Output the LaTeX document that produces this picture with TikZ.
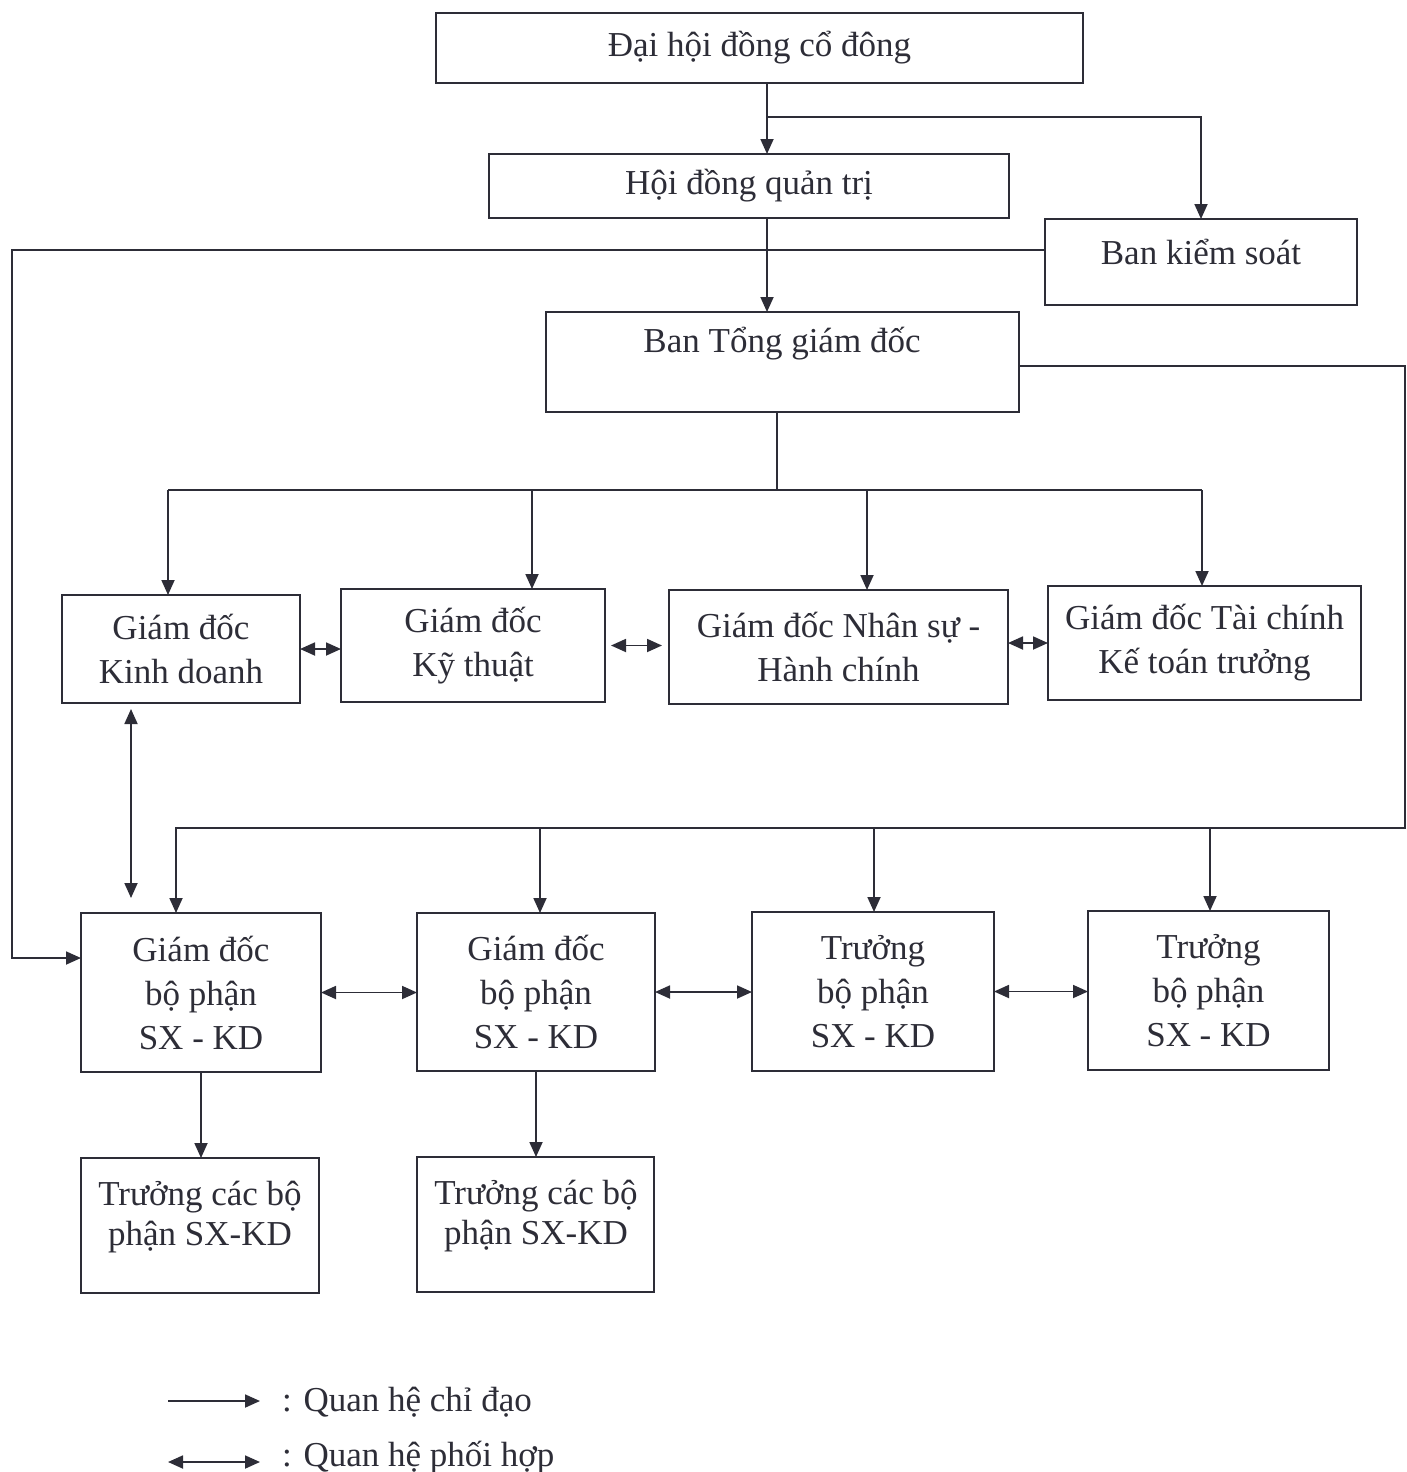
\documentclass[tikz,border=0pt]{standalone}
\usepackage{fontspec}
\setmainfont{Liberation Serif}
\usetikzlibrary{arrows.meta}
\definecolor{ink}{RGB}{45,45,55}
\begin{document}
\begin{tikzpicture}[x=1pt,y=-1pt,
  every node/.style={text=ink,font=\fontsize{35}{44}\selectfont},
  box/.style={draw=ink,line width=1.8pt,inner sep=0pt,outer sep=0pt,align=center,anchor=north west},
  lbl/.style={inner sep=0pt,align=center},
  arr/.style={draw=ink,line width=1.8pt,-{Triangle[length=15pt,width=13pt]}},
  darr/.style={draw=ink,line width=1.8pt,{Triangle[length=15pt,width=13pt]}-{Triangle[length=15pt,width=13pt]}},
  ln/.style={draw=ink,line width=1.8pt}]
\useasboundingbox (0,0) rectangle (1407,1472);
% boxes
\node[box,minimum width=647pt,minimum height=70pt] (dh) at (436,13) {Đại hội đồng cổ đông};
\node[box,minimum width=520pt,minimum height=64pt] (hd) at (489,154) {Hội đồng quản trị};
\node[box,minimum width=312pt,minimum height=86pt] (bks) at (1045,219) {};
\node[lbl] (bkst) at (1201,252) {Ban kiểm soát};
\node[box,minimum width=473pt,minimum height=100pt] (btgd) at (546,312) {};
\node[lbl] (btgdt) at (782,344) {Ban Tổng giám đốc};
\node[box,minimum width=238pt,minimum height=108pt] (kd) at (62,595) {Giám đốc\\Kinh doanh};
\node[box,minimum width=264pt,minimum height=113pt] (kt) at (341,589) {Giám đốc\\Kỹ thuật};
\node[box,minimum width=339pt,minimum height=114pt] (ns) at (669,590) {Giám đốc Nhân sự -\\Hành chính};
\node[box,minimum width=313pt,minimum height=114pt] (tc) at (1048,586) {Giám đốc Tài chính\\Kế toán trưởng};
\node[box,minimum width=240pt,minimum height=159pt] (gb1) at (81,913) {Giám đốc\\bộ phận\\SX - KD};
\node[box,minimum width=238pt,minimum height=158pt] (gb2) at (417,913) {Giám đốc\\bộ phận\\SX - KD};
\node[box,minimum width=242pt,minimum height=159pt] (tb1) at (752,912) {Trưởng\\bộ phận\\SX - KD};
\node[box,minimum width=241pt,minimum height=159pt] (tb2) at (1088,911) {Trưởng\\bộ phận\\SX - KD};
\node[box,minimum width=238pt,minimum height=135pt] (tc1) at (81,1158) {};
\node[lbl,font=\fontsize{35}{40}\selectfont] (tc1t) at (200,1217) {Trưởng các bộ\\phận SX-KD};
\node[box,minimum width=237pt,minimum height=135pt] (tc2) at (417,1157) {};
\node[lbl,font=\fontsize{35}{40}\selectfont] (tc2t) at (536,1216) {Trưởng các bộ\\phận SX-KD};
% junction coordinates
\coordinate (j1) at (767,117);
\coordinate (j2) at (767,260);
\coordinate (L1) at (12,250);
\coordinate (L2) at (12,958);
\coordinate (R1) at (1405,366);
\coordinate (R2) at (1405,828);
\coordinate (R3) at (176,828);
\coordinate (d2) at (540,828);
\coordinate (d3) at (874,828);
\coordinate (d4) at (1210,828);
\coordinate (j3) at (777,490);
\coordinate (h1) at (168,490);
\coordinate (h2) at (532,490);
\coordinate (h3) at (867,490);
\coordinate (h4) at (1202,490);
\coordinate (v) at (131,800);
% top connectors
\draw[arr] (j1 |- dh.south) -- (j1 |- hd.north);
\draw[arr] (j1) -| (bks.north);
\draw[arr] (j2 |- hd.south) -- (j2 |- btgd.north);
% Ban kiem soat to GD bo phan 1
\draw[arr] (bks.west |- L1) -- (L1) -- (L2) -- (gb1.west |- L2);
% Ban Tong giam doc right loop
\draw[arr] (btgd.east |- R1) -- (R1) -- (R2) -- (R3) -- (R3 |- gb1.north);
\draw[arr] (d2) -- (d2 |- gb2.north);
\draw[arr] (d3) -- (d3 |- tb1.north);
\draw[arr] (d4) -- (d4 |- tb2.north);
% Ban Tong giam doc down
\draw[ln] (j3 |- btgd.south) -- (j3);
\draw[ln] (h1) -- (h4);
\draw[arr] (h1) -- (h1 |- kd.north);
\draw[arr] (h2) -- (h2 |- kt.north);
\draw[arr] (h3) -- (h3 |- ns.north);
\draw[arr] (h4) -- (h4 |- tc.north);
% coordination row 2
\draw[darr] (kd.east) -- (kd.east -| kt.west);
\draw[darr] ([xshift=6pt]kt.east) -- ([xshift=-7pt]kt.east -| ns.west);
\draw[darr] (tc.west -| ns.east) -- (tc.west);
% vertical coordination
\draw[darr] ([yshift=-6pt]v |- kd.south) -- ([yshift=15pt]v |- gb1.north);
% coordination row 3
\draw[darr] (gb1.east) -- (gb1.east -| gb2.west);
\draw[darr] (gb2.east) -- (gb2.east -| tb1.west);
\draw[darr] (tb1.east) -- (tb1.east -| tb2.west);
% row 4
\draw[arr] (gb1.south) -- (gb1.south |- tc1.north);
\draw[arr] (gb2.south) -- (gb2.south |- tc2.north);
% legend
\coordinate (la) at (168,1401);
\coordinate (lb) at (260,1401);
\coordinate (lc) at (168,1462);
\coordinate (ld) at (260,1462);
\draw[arr] (la) -- (lb);
\draw[darr] (lc) -- (ld);
\node[lbl,anchor=west] (lt1) at (282,1402) {: Quan hệ chỉ đạo};
\node[lbl,anchor=west] (lt2) at (282,1458) {: Quan hệ phối hợp};
\end{tikzpicture}
\end{document}
